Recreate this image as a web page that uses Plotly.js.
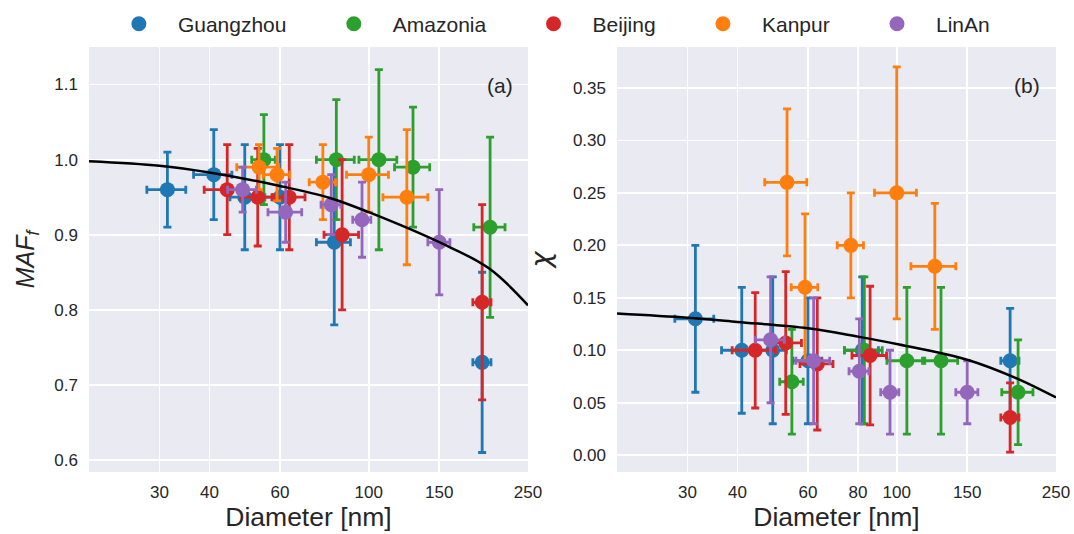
<!DOCTYPE html>
<html>
<head>
<meta charset="utf-8">
<script src="https://cdn.plot.ly/plotly-3.0.1.min.js"></script>
<style>html,body{margin:0;padding:0;background:#fff;}#chart{width:1074px;height:534px;}</style>
</head>
<body>
<div id="chart"></div>
<script>
// ---- data ----
const sites = ["Guangzhou", "Amazonia", "Beijing", "Kanpur", "LinAn"];
const colors = ["#1f77b4", "#2ca02c", "#d62728", "#ff7f0e", "#9467bd"];

const gzD = [31.4, 41, 49, 60, 82, 192];
const gzDerr = [3.5, 4.5, 4, 5, 8, 10];
const gzMAF = [0.96, 0.98, 0.95, 0.95, 0.89, 0.73];
const gzMAFerr = [0.05, 0.06, 0.07, 0.07, 0.11, 0.12];
const gzChi = [0.13, 0.10, 0.10, 0.09, 0.10, 0.09];
const gzChiErr = [0.07, 0.06, 0.07, 0.06, 0.07, 0.05];

const amD = [54.7, 83, 106, 129, 201];
const amDerr = [3.7, 9, 11.5, 13, 18];
const amMAF = [1.0, 1.0, 1.0, 0.99, 0.91];
const amMAFerr = [0.06, 0.08, 0.12, 0.08, 0.12];
const amChi = [0.07, 0.10, 0.09, 0.09, 0.06];
const amChiErr = [0.05, 0.07, 0.07, 0.07, 0.05];

const bjD = [44.3, 52.8, 63.3, 85.8, 192];
const bjDerr = [5.5, 5, 6, 8.5, 10];
const bjMAF = [0.96, 0.95, 0.95, 0.90, 0.81];
const bjMAFerr = [0.06, 0.065, 0.07, 0.10, 0.13];
const bjChi = [0.10, 0.107, 0.087, 0.095, 0.036];
const bjChiErr = [0.055, 0.068, 0.063, 0.066, 0.033];

const kpD = [53.2, 59, 76.8, 100, 124.5];
const kpDerr = [6.4, 4.5, 5.8, 12, 16];
const kpMAF = [0.99, 0.98, 0.97, 0.98, 0.95];
const kpMAFerr = [0.03, 0.035, 0.05, 0.05, 0.09];
const kpChi = [0.26, 0.16, 0.20, 0.25, 0.18];
const kpChiErr = [0.07, 0.07, 0.05, 0.12, 0.06];

const laD = [48.4, 62, 80.6, 96.2, 150];
const laDerr = [4, 6, 4.6, 5, 9.5];
const laMAF = [0.96, 0.93, 0.94, 0.92, 0.89];
const laMAFerr = [0.03, 0.04, 0.04, 0.05, 0.07];
const laChi = [0.11, 0.09, 0.08, 0.06, 0.06];
const laChiErr = [0.06, 0.06, 0.05, 0.04, 0.03];

// fitted curves
const curveD = [20, 30, 40, 60, 80, 100, 150, 200, 250];
const curveMAF = [0.998, 0.992, 0.983, 0.965, 0.949, 0.93, 0.89, 0.855, 0.806];
const curveChi = [0.135, 0.131, 0.127, 0.121, 0.113, 0.106, 0.091, 0.073, 0.055];

const xTicksA = [30, 40, 60, 100, 150, 250];
const xTicksB = [30, 40, 60, 80, 100, 150, 250];
const yTicksA = [0.6, 0.7, 0.8, 0.9, 1.0, 1.1];
const yTicksB = [0.00, 0.05, 0.10, 0.15, 0.20, 0.25, 0.30, 0.35];

// ---- build ----
const groups = [
  [gzD, gzDerr, gzMAF, gzMAFerr, gzChi, gzChiErr],
  [amD, amDerr, amMAF, amMAFerr, amChi, amChiErr],
  [bjD, bjDerr, bjMAF, bjMAFerr, bjChi, bjChiErr],
  [kpD, kpDerr, kpMAF, kpMAFerr, kpChi, kpChiErr],
  [laD, laDerr, laMAF, laMAFerr, laChi, laChiErr]
];
const pad = "\u00a0\u00a0\u00a0\u00a0";

const traces = [];
groups.forEach((g, i) => {
  const common = {
    mode: "markers",
    marker: {color: colors[i], size: 15},
    name: sites[i] + pad,
    legendgroup: sites[i]
  };
  const ex = {type: "data", array: g[1], color: colors[i], thickness: 2.8, width: 4};
  traces.push(Object.assign({}, common, {
    x: g[0], y: g[2], xaxis: "x", yaxis: "y",
    error_x: ex,
    error_y: {type: "data", array: g[3], color: colors[i], thickness: 2.8, width: 4},
    showlegend: true
  }));
  traces.push(Object.assign({}, common, {
    x: g[0], y: g[4], xaxis: "x2", yaxis: "y2",
    error_x: ex,
    error_y: {type: "data", array: g[5], color: colors[i], thickness: 2.8, width: 4},
    showlegend: false
  }));
});
traces.push({x: curveD, y: curveMAF, mode: "lines", line: {color: "black", width: 2.5, shape: "spline"},
  xaxis: "x", yaxis: "y", showlegend: false, hoverinfo: "skip"});
traces.push({x: curveD, y: curveChi, mode: "lines", line: {color: "black", width: 2.5, shape: "spline"},
  xaxis: "x2", yaxis: "y2", showlegend: false, hoverinfo: "skip"});

const font = "Liberation Sans, Arial, sans-serif";
const tickFont = {family: font, size: 17, color: "#262626"};
const xr = [Math.log10(20), Math.log10(250)];

function xAxis(ticks, domain, anchor) {
  return {
    type: "log", range: xr, domain: domain, anchor: anchor,
    tickvals: ticks, ticktext: ticks.map(String),
    showgrid: true, gridcolor: "white", gridwidth: 1.8,
    zeroline: false, showline: false, ticks: "",
    tickfont: tickFont, ticklabelstandoff: 8,
    title: {text: "Diameter [nm]", font: {family: font, size: 26.5, color: "#262626"}, standoff: 4}
  };
}

const layout = {
  width: 1074, height: 534,
  margin: {l: 89, r: 18, t: 47, b: 62},
  paper_bgcolor: "white", plot_bgcolor: "#EAEAF2",
  font: {family: font, color: "#262626"},
  xaxis: xAxis(xTicksA, [0, 0.454], "y"),
  xaxis2: xAxis(xTicksB, [0.546, 1.0], "y2"),
  yaxis: {
    range: [0.584, 1.15], domain: [0, 1], anchor: "x",
    tickvals: yTicksA, ticktext: yTicksA.map(v => v.toFixed(1)),
    showgrid: true, gridcolor: "white", gridwidth: 1.8,
    zeroline: false, showline: false, ticks: "", tickfont: tickFont, ticklabelstandoff: 10,
    title: {text: "<i>MAF</i><sub><i>f</i></sub>", font: {family: font, size: 25, color: "#262626"}, standoff: 12}
  },
  yaxis2: {
    range: [-0.016, 0.389], domain: [0, 1], anchor: "x2",
    tickvals: yTicksB, ticktext: yTicksB.map(v => v.toFixed(2)),
    showgrid: true, gridcolor: "white", gridwidth: 1.8,
    zeroline: false, showline: false, ticks: "", tickfont: tickFont, ticklabelstandoff: 10,
    title: {text: "<i>χ</i>", font: {family: "DejaVu Sans, sans-serif", size: 27, color: "#262626"}, standoff: 14}
  },
  showlegend: true,
  legend: {
    orientation: "h", xref: "container", yref: "container",
    x: 0.093, xanchor: "left", y: 0.955, yanchor: "middle",
    font: {family: font, size: 21, color: "#262626"},
    bgcolor: "rgba(0,0,0,0)", itemwidth: 68
  },
  annotations: [
    {text: "(a)", xref: "x domain", yref: "y domain", x: 0.936, y: 0.91, xanchor: "center", yanchor: "middle",
      showarrow: false, font: {family: font, size: 21, color: "#262626"}},
    {text: "(b)", xref: "x2 domain", yref: "y2 domain", x: 0.935, y: 0.91, xanchor: "center", yanchor: "middle",
      showarrow: false, font: {family: font, size: 21, color: "#262626"}}
  ]
};

Plotly.newPlot("chart", traces, layout, {staticPlot: true, displayModeBar: false});
</script>
</body>
</html>
